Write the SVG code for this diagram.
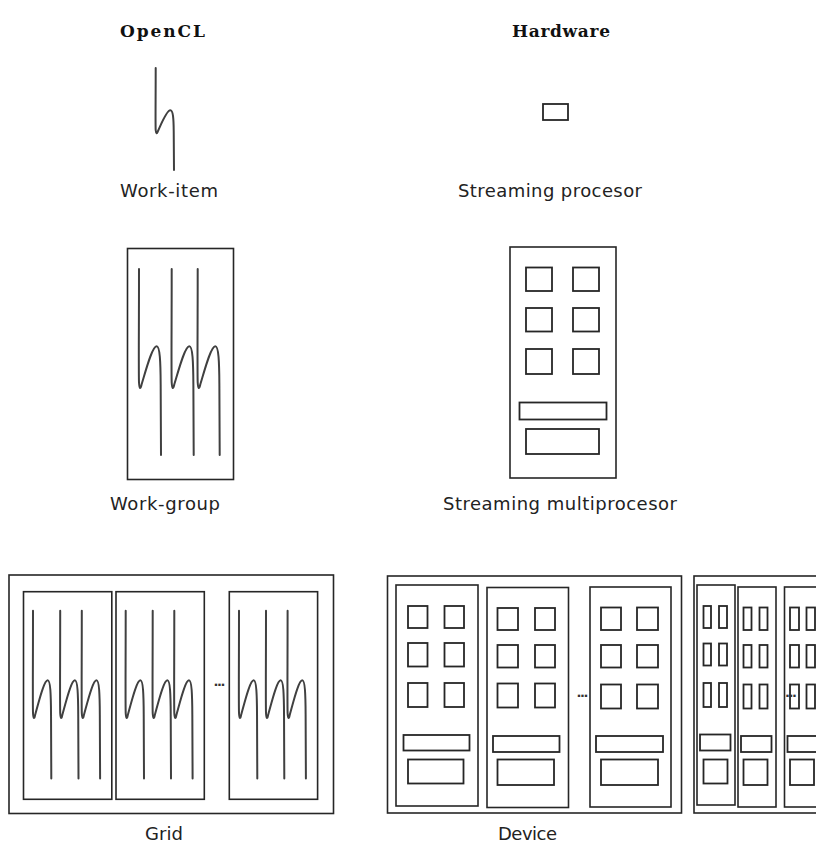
<svg xmlns="http://www.w3.org/2000/svg" xmlns:xlink="http://www.w3.org/1999/xlink" width="816" height="844" viewBox="0 0 816 844">
  <style>
    .title { font-family: "DejaVu Serif", "Liberation Serif", serif; font-weight: bold; font-size: 17px; fill: #111; text-anchor: middle; }
    .label { font-family: "DejaVu Sans", "Open Sans", sans-serif; font-size: 18px; fill: #222; text-anchor: middle; }
    .dots { font-family: "DejaVu Sans", sans-serif; font-weight: bold; font-size: 13px; fill: #333; }
    .box { fill: none; stroke: #262626; stroke-width: 1.6; }
    .cell { fill: none; stroke: #262626; stroke-width: 1.8; }
    .wave { fill: none; stroke: #404040; stroke-width: 2; stroke-linecap: round; vector-effect: non-scaling-stroke; }
  </style>
  <defs>
    <!-- one thread squiggle in unit coordinates, scaled per use -->
    <path id="wave" class="wave" d="M0,0 C0,0.3 -0.02,0.55 0,0.61 C0.02,0.648 0.07,0.648 0.12,0.62 C0.3,0.55 0.6,0.415 0.8,0.415 C0.95,0.415 0.98,0.5 0.985,0.62 L1,1"/>
  </defs>
  <rect width="816" height="844" fill="#ffffff"/>

  <!-- column headings -->
  <g id="headings">
    <text class="title" x="162.5" y="36.5" textLength="85">OpenCL</text>
    <text class="title" x="561" y="36.5" textLength="98">Hardware</text>
  </g>

  <!-- OpenCL side -->
  <g id="work-item">
    <use xlink:href="#wave" transform="translate(155.7,68) scale(18.3,102)"/>
    <text class="label" x="169" y="197" textLength="98">Work-item</text>
  </g>

  <g id="work-group">
    <rect class="box" x="127.5" y="248.5" width="106" height="231"/>
    <use xlink:href="#wave" transform="translate(139,269) scale(22,186)"/>
    <use xlink:href="#wave" transform="translate(171.7,269) scale(22,186)"/>
    <use xlink:href="#wave" transform="translate(197.7,269) scale(22,186)"/>
    <text class="label" x="165" y="510" textLength="110">Work-group</text>
  </g>

  <g id="grid">
    <rect class="box" x="9" y="575" width="324.5" height="238.5"/>
    <rect class="box" x="23.5" y="591.7" width="88.3" height="207.6"/>
    <use xlink:href="#wave" transform="translate(33,610.7) scale(18.3,167.7)"/>
    <use xlink:href="#wave" transform="translate(60.2,610.7) scale(18.3,167.7)"/>
    <use xlink:href="#wave" transform="translate(81.8,610.7) scale(18.3,167.7)"/>
    <rect class="box" x="116" y="591.7" width="88.3" height="207.6"/>
    <use xlink:href="#wave" transform="translate(125.7,610.7) scale(18.3,167.7)"/>
    <use xlink:href="#wave" transform="translate(152.7,610.7) scale(18.3,167.7)"/>
    <use xlink:href="#wave" transform="translate(174.3,610.7) scale(18.3,167.7)"/>
    <rect class="box" x="229.3" y="591.7" width="88.3" height="207.6"/>
    <use xlink:href="#wave" transform="translate(239,610.7) scale(18.3,167.7)"/>
    <use xlink:href="#wave" transform="translate(266,610.7) scale(18.3,167.7)"/>
    <use xlink:href="#wave" transform="translate(287.6,610.7) scale(18.3,167.7)"/>
    <text class="dots" x="213.5" y="686" textLength="12">...</text>
    <text class="label" x="164" y="839.5" textLength="38">Grid</text>
  </g>

  <!-- Hardware side -->
  <g id="streaming-processor">
    <rect class="cell" x="543" y="104" width="25" height="16"/>
    <text class="label" x="550" y="197" textLength="184">Streaming procesor</text>
  </g>

  <g id="streaming-multiprocessor">
    <rect class="box" x="510" y="247" width="106" height="231"/>
    <rect class="cell" x="526" y="267.5" width="26" height="23.5"/>
    <rect class="cell" x="573" y="267.5" width="26" height="23.5"/>
    <rect class="cell" x="526" y="308" width="26" height="23.5"/>
    <rect class="cell" x="573" y="308" width="26" height="23.5"/>
    <rect class="cell" x="526" y="349" width="26" height="25"/>
    <rect class="cell" x="573" y="349" width="26" height="25"/>
    <rect class="cell" x="519.5" y="402.5" width="87" height="17"/>
    <rect class="cell" x="526" y="429" width="73" height="25"/>
    <text class="label" x="560" y="510" textLength="234">Streaming multiprocesor</text>
  </g>

  <g id="device">
    <rect class="box" x="387.5" y="576" width="294" height="237"/>
    <!-- multiprocessor 1 -->
    <rect class="box" x="396" y="585" width="82" height="221"/>
    <rect class="cell" x="408" y="606" width="19.5" height="22"/>
    <rect class="cell" x="444.5" y="606" width="19.5" height="22"/>
    <rect class="cell" x="408" y="643" width="19.5" height="23.5"/>
    <rect class="cell" x="444.5" y="643" width="19.5" height="23.5"/>
    <rect class="cell" x="408" y="683" width="19.5" height="24"/>
    <rect class="cell" x="444.5" y="683" width="19.5" height="24"/>
    <rect class="cell" x="403.5" y="735" width="66" height="15.5"/>
    <rect class="cell" x="408" y="759.5" width="55.5" height="24"/>
    <!-- multiprocessor 2 -->
    <rect class="box" x="487" y="587.5" width="81.5" height="220"/>
    <rect class="cell" x="497.5" y="608" width="20.5" height="22"/>
    <rect class="cell" x="535" y="608" width="20" height="22"/>
    <rect class="cell" x="497.5" y="645" width="20.5" height="22.5"/>
    <rect class="cell" x="535" y="645" width="20" height="22.5"/>
    <rect class="cell" x="497.5" y="683.5" width="20.5" height="24"/>
    <rect class="cell" x="535" y="683.5" width="20" height="24"/>
    <rect class="cell" x="493" y="736" width="66.5" height="16"/>
    <rect class="cell" x="497.5" y="759.5" width="56.5" height="25.5"/>
    <text class="dots" x="576.5" y="697" textLength="12">...</text>
    <!-- multiprocessor 3 -->
    <rect class="box" x="590" y="587" width="81" height="220"/>
    <rect class="cell" x="601" y="607.5" width="20" height="22.5"/>
    <rect class="cell" x="637" y="607.5" width="21" height="22.5"/>
    <rect class="cell" x="601" y="645" width="20" height="22.5"/>
    <rect class="cell" x="637" y="645" width="21" height="22.5"/>
    <rect class="cell" x="601" y="684.5" width="20" height="24"/>
    <rect class="cell" x="637" y="684.5" width="21" height="24"/>
    <rect class="cell" x="596" y="736" width="67" height="16"/>
    <rect class="cell" x="601" y="759.5" width="57" height="25.5"/>
    <text class="label" x="527.5" y="839.5" textLength="59">Device</text>
  </g>

  <g id="device-narrow">
    <rect class="box" x="694" y="576" width="140" height="237"/>
    <!-- narrow multiprocessor A -->
    <rect class="box" x="697" y="585" width="38" height="220"/>
    <rect class="cell" x="703.5" y="606" width="7.5" height="22"/>
    <rect class="cell" x="719" y="606" width="8" height="22"/>
    <rect class="cell" x="703.5" y="643.5" width="7.5" height="22"/>
    <rect class="cell" x="719" y="643.5" width="8" height="22"/>
    <rect class="cell" x="703.5" y="683" width="7.5" height="24"/>
    <rect class="cell" x="719" y="683" width="8" height="24"/>
    <rect class="cell" x="700" y="734.5" width="30.5" height="16"/>
    <rect class="cell" x="703.5" y="759.5" width="24" height="24"/>
    <!-- narrow multiprocessor B -->
    <rect class="box" x="738" y="587" width="38" height="220"/>
    <rect class="cell" x="743.5" y="607.5" width="8" height="22.5"/>
    <rect class="cell" x="759.5" y="607.5" width="8" height="22.5"/>
    <rect class="cell" x="743.5" y="645" width="8" height="22.5"/>
    <rect class="cell" x="759.5" y="645" width="8" height="22.5"/>
    <rect class="cell" x="743.5" y="684.5" width="8" height="24"/>
    <rect class="cell" x="759.5" y="684.5" width="8" height="24"/>
    <rect class="cell" x="741" y="736" width="30.5" height="16"/>
    <rect class="cell" x="743.5" y="759.5" width="24" height="25.5"/>
    <!-- narrow multiprocessor C -->
    <rect class="box" x="784.5" y="587" width="38" height="220"/>
    <rect class="cell" x="790" y="607.5" width="9" height="22.5"/>
    <rect class="cell" x="806.5" y="607.5" width="8.5" height="22.5"/>
    <rect class="cell" x="790" y="645" width="9" height="22.5"/>
    <rect class="cell" x="806.5" y="645" width="8.5" height="22.5"/>
    <rect class="cell" x="790" y="684.5" width="9" height="24"/>
    <rect class="cell" x="806.5" y="684.5" width="8.5" height="24"/>
    <rect class="cell" x="787.5" y="736" width="30.5" height="16"/>
    <rect class="cell" x="790" y="759.5" width="24" height="25.5"/>
    <text class="dots" x="785" y="697" textLength="12">...</text>
  </g>
</svg>
